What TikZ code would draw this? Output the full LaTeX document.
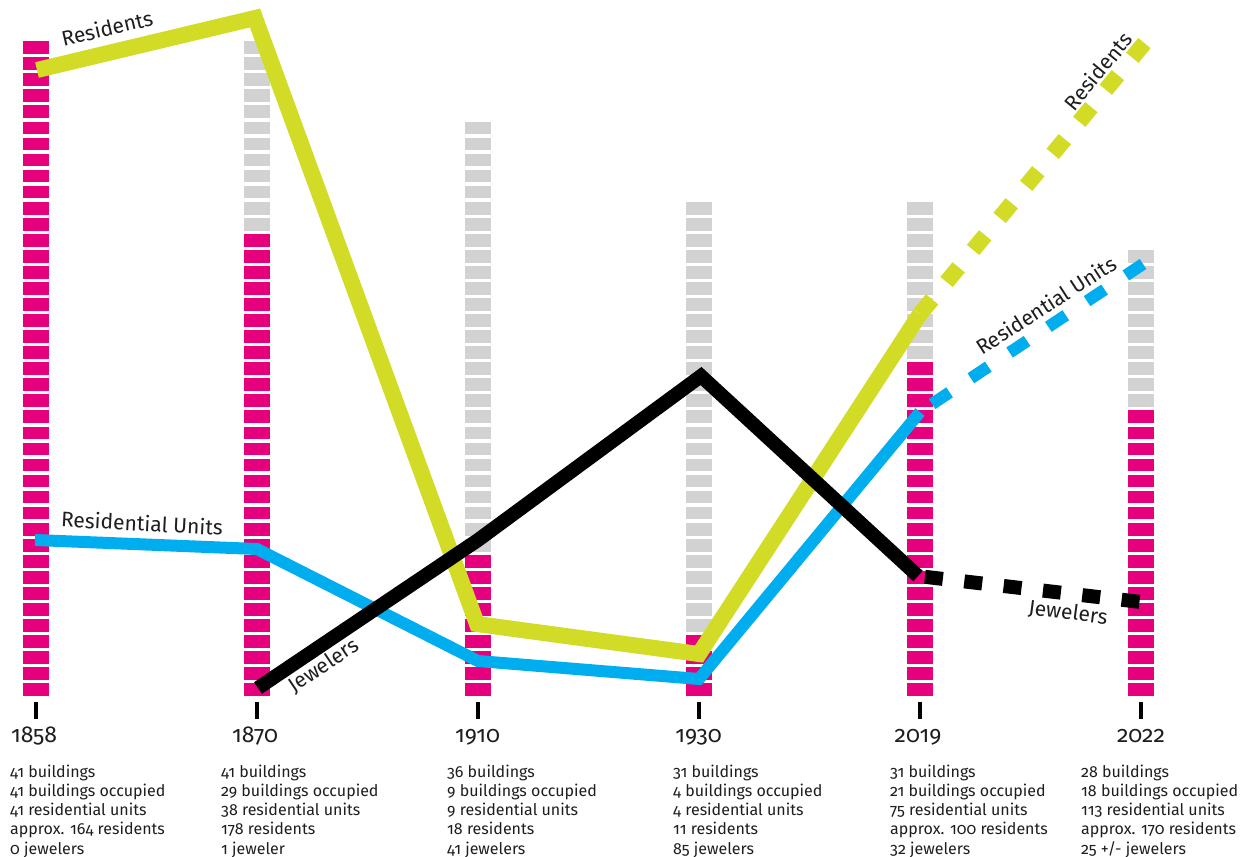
\documentclass[tikz,border=0pt]{standalone}
\usepackage{fontspec}
\setmainfont{Fira Sans}[Numbers=OldStyle]
\definecolor{resc}{RGB}{210,220,38}
\definecolor{unitc}{RGB}{0,174,239}
\definecolor{barp}{RGB}{230,0,126}
\definecolor{barg}{RGB}{210,210,210}
\definecolor{txt}{RGB}{30,30,30}
\tikzset{
  resline/.style={line width=16pt, draw=resc, line join=miter},
  unitline/.style={line width=12pt, draw=unitc, line join=miter},
  jewline/.style={line width=14pt, draw=black, line join=miter},
  lab/.style={inner sep=0pt, text=txt, font=\fontsize{21}{24}\selectfont},
  yearlab/.style={inner sep=0pt, anchor=base, text=txt, font=\fontsize{23}{26}\selectfont},
  stats/.style={inner sep=0pt, anchor=north west, align=left, text=txt, font=\fontsize{16}{19.1}\selectfont},
}
\begin{document}
\begin{tikzpicture}[x=1pt,y=-1pt]
\fill[white] (0,0) rectangle (1249,856);
\useasboundingbox (0,0) rectangle (1249,856);
% bars
\foreach \x/\n/\o in {35.5/41/41, 256.7/41/29, 477.5/36/9, 698.5/31/4, 919.7/31/21, 1141/28/18} {
  \foreach \i in {1,...,\n} {
    \ifnum\i>\o\relax\def\col{barg}\else\def\col{barp}\fi
    \fill[\col] ({\x-13},{696-16.05*(\i-1)}) rectangle ++(26,-12.7);
  }
  \fill[black] ({\x-2},702) rectangle ({\x+2},719);
}
% data points
\coordinate (r1) at (37,70);
\coordinate (r2) at (255,18);
\coordinate (r3) at (477,624);
\coordinate (r4) at (699,654);
\coordinate (r5) at (920,314);
\coordinate (r6) at (1147,40);
\coordinate (u1) at (35,540);
\coordinate (u2) at (257,549);
\coordinate (u3) at (478,661);
\coordinate (u4) at (699,679);
\coordinate (u5) at (920,412);
\coordinate (u6) at (1143,264);
\coordinate (j2) at (258,688);
\coordinate (j3) at (478,540);
\coordinate (j4) at (701,376);
\coordinate (j5) at (918,576);
\coordinate (j6) at (1141,602);
% lines
\draw[resline] (r1) -- (r2) -- (r3) -- (r4) -- (r5);
\draw[resline, dash pattern=on 19pt off 22.6pt] (r5) -- (r6);
\draw[unitline] (u1) -- (u2) -- (u3) -- (u4) -- (u5);
\draw[unitline, dash pattern=on 21pt off 25.5pt, dash phase=32pt] (u5) -- (u6);
\draw[jewline] (j2) -- (j3) -- (j4) -- (j5);
\draw[jewline, dash pattern=on 18pt off 21.6pt, dash phase=32.6pt] (j5) -- (j6);
% line labels
\node[lab, rotate=13.4] (lr1) at (107,28) {Residents};
\node[lab, rotate=-3] (lu1) at (142,523) {Residential Units};
\node[lab, rotate=34] (lj1) at (324,666) {Jewelers};
\node[lab, rotate=50.4] (lr2) at (1098,71) {Residents};
\node[lab, rotate=33] (lu2) at (1046,305) {Residential Units};
\node[lab, rotate=-7.5] (lj2) at (1068,613) {Jewelers};
% years
\node[yearlab] (y1) at (34,742) {1858};
\node[yearlab] (y2) at (255,742) {1870};
\node[yearlab] (y3) at (477.5,742) {1910};
\node[yearlab] (y4) at (698.5,742) {1930};
\node[yearlab] (y5) at (918,742) {2019};
\node[yearlab] (y6) at (1141,742) {2022};
% stats
\node[stats] (s1) at (10,765) {41 buildings\\41 buildings occupied\\41 residential units\\approx. 164 residents\\0 jewelers};
\node[stats] (s2) at (221,765) {41 buildings\\29 buildings occupied\\38 residential units\\178 residents\\1 jeweler};
\node[stats] (s3) at (447,765) {36 buildings\\9 buildings occupied\\9 residential units\\18 residents\\41 jewelers};
\node[stats] (s4) at (673,765) {31 buildings\\4 buildings occupied\\4 residential units\\11 residents\\85 jewelers};
\node[stats] (s5) at (890,765) {31 buildings\\21 buildings occupied\\75 residential units\\approx. 100 residents\\32 jewelers};
\node[stats] (s6) at (1081,765) {28 buildings\\18 buildings occupied\\113 residential units\\approx. 170 residents\\25 +/- jewelers};
\end{tikzpicture}
\end{document}
